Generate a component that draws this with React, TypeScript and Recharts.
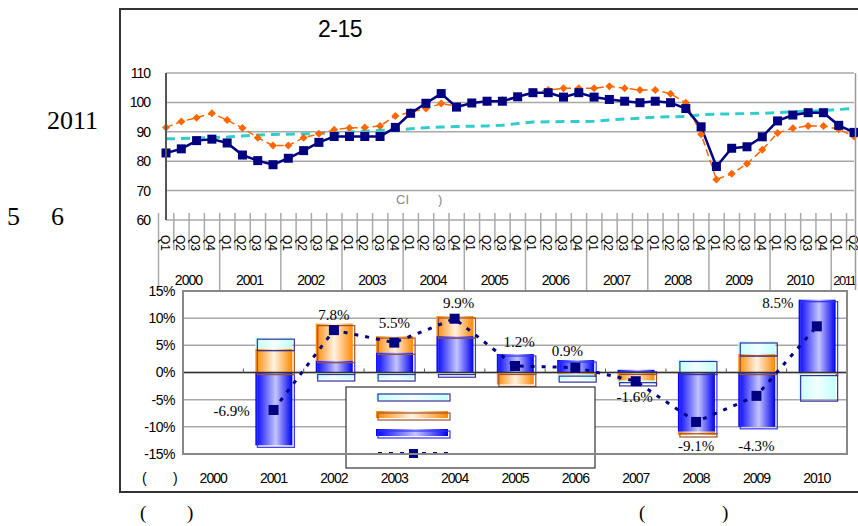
import {
  Bar,
  CartesianGrid,
  ComposedChart,
  LabelList,
  Line,
  LineChart,
  ReferenceLine,
  XAxis,
  YAxis,
} from 'recharts';

// quarterly indices, 2000Q1 - 2011Q2
const years = ['2000', '2001', '2002', '2003', '2004', '2005', '2006', '2007', '2008', '2009', '2010', '2011'];
const quarters = ['Q1', 'Q2', 'Q3', 'Q4'];
const ciIndex = [
  82.8, 84.2, 87.0, 87.5, 86.2, 82.1, 80.2, 78.8, 81.0, 83.6,
  86.4, 88.4, 88.4, 88.4, 88.4, 91.5, 96.3, 99.7, 103.0, 98.4,
  99.8, 100.4, 100.4, 101.9, 103.3, 103.3, 101.8, 103.3, 101.8, 101.0,
  100.4, 99.9, 100.4, 99.9, 97.9, 91.7, 78.2, 84.4, 84.9, 88.3,
  93.7, 95.7, 96.5, 96.5, 92.2, 89.8,
];
const leadingIndex = [
  91.5, 93.5, 94.8, 96.3, 94.0, 91.3, 88.0, 85.3, 85.3, 88.0,
  89.3, 90.7, 91.3, 91.5, 92.0, 95.4, 96.7, 97.9, 99.6, 98.8,
  99.9, 100.1, 100.8, 102.0, 103.5, 104.2, 104.8, 104.8, 104.8, 105.5,
  104.8, 104.2, 104.2, 102.9, 99.9, 89.2, 73.8, 75.7, 79.1, 83.9,
  89.6, 91.2, 92.0, 92.0, 90.9, 88.4,
];
const trendIndex = [
  87.6, 87.7, 87.9, 88.0, 88.2, 88.6, 88.9, 89.1, 89.2, 89.3,
  89.4, 89.6, 89.9, 90.2, 90.5, 90.7, 91.0, 91.4, 91.6, 91.8,
  91.9, 92.0, 92.2, 92.8, 93.3, 93.4, 93.5, 93.5, 93.6, 94.0,
  94.4, 94.6, 95.0, 95.1, 95.2, 95.8, 96.0, 96.1, 96.2, 96.3,
  96.5, 96.8, 97.0, 97.2, 97.6, 97.9,
];
const indexTicks = [60, 70, 80, 90, 100, 110];

// annual growth and contributions (%)
const barYears = ['2000', '2001', '2002', '2003', '2004', '2005', '2006', '2007', '2008', '2009', '2010'];
const blueContrib = [0, -13.4, 2.2, 3.7, 6.7, 3.4, 2.3, 0.5, -10.9, -10.0, 13.4];
const orangeContrib = [0, 4.4, 6.8, 3.0, 3.7, -2.2, -0.3, -1.5, -0.6, 3.4, -0.2];
const cyanContrib = [0, 2.1, -1.2, -1.2, -0.5, 0, -1.1, -0.6, 2.4, 2.4, -4.7];
const growthRate = [null, -6.9, 7.8, 5.5, 9.9, 1.2, 0.9, -1.6, -9.1, -4.3, 8.5];
const growthTicks = [-15, -10, -5, 0, 5, 10, 15];

// label nudges for the growth labels
const labelOffsets = [
  [0, 0], [-42, 1], [0, -15], [0, -20], [4, -16], [4, -24],
  [-8, -17], [-1, 16], [0, 24], [0, 50], [-39, -23],
];

const quarterRows = ciIndex.map((ci, i) => ({
  key: years[Math.floor(i / 4)] + quarters[i % 4],
  year: years[Math.floor(i / 4)],
  quarter: quarters[i % 4],
  ci,
  leading: leadingIndex[i],
  trend: trendIndex[i],
}));

const yearRows = barYears.map((year, i) => ({
  year,
  blue: blueContrib[i],
  orange: orangeContrib[i],
  cyan: cyanContrib[i],
  growth: growthRate[i],
}));

const SANS = '"Liberation Sans", Arial, sans-serif';
const SERIF = '"Liberation Serif", "Times New Roman", serif';

const W = 858;
const TOP_LEFT = 166;
const TOP_RIGHT = 854;
const TOP_TOP = 73;
const TOP_BOTTOM = 220;
const BOT_OFFSET = 280;
const BOT_LEFT = 183;
const BOT_RIGHT = 847;
const BOT_TOP = 291;
const BOT_BOTTOM = 454;

const qBand = (TOP_RIGHT - TOP_LEFT) / quarterRows.length;
const yBand = (BOT_RIGHT - BOT_LEFT) / yearRows.length;

function QuarterTick(props: any) {
  const { x, y, payload } = props;
  const idx = quarterRows.findIndex((r) => r.key === payload.value);
  const row = quarterRows[idx];
  const isQ1 = row.quarter === 'Q1';
  const left = x - qBand / 2;
  const nInYear = quarterRows.filter((r) => r.year === row.year).length;
  const short = nInYear < 4;
  return (
    <g>
      <line x1={left} x2={left} y1={y - 7} y2={isQ1 ? y + 70 : y + 30} stroke="#aaa" strokeWidth={1.5} />
      <text
        transform={`translate(${x - 1.5},${y + 15}) rotate(90)`}
        dominantBaseline="central"
        fontSize={12}
        fontFamily={SANS}
        fill="#000"
      >
        {row.quarter}
      </text>
      {isQ1 && (
        <text
          x={left + (qBand * nInYear) / 2 - (short ? 2 : 0)}
          y={y + 60}
          textAnchor="middle"
          dominantBaseline="central"
          fontSize={short ? 13 : 14}
          letterSpacing={short ? -1.5 : -1}
          fontFamily={SANS}
          fill="#000"
        >
          {row.year}
        </text>
      )}
    </g>
  );
}

function YearTick(props: any) {
  const { x, y, payload } = props;
  const zeroY = BOT_TOP - BOT_OFFSET + (BOT_BOTTOM - BOT_TOP) / 2;
  return (
    <g>
      <line x1={x - yBand / 2} x2={x - yBand / 2} y1={zeroY - 4} y2={zeroY} stroke="#555" />
      <text
        x={x}
        y={y + 24}
        textAnchor="middle"
        dominantBaseline="central"
        fontSize={14}
        letterSpacing={-1}
        fontFamily={SANS}
        fill="#000"
      >
        {payload.value}
      </text>
    </g>
  );
}

const squareDot = (size: number, color: string) => (p: any) => {
  if (p.cy == null || p.value == null) return <g key={`s${p.index}`} />;
  return <rect key={`s${p.index}`} x={p.cx - size / 2} y={p.cy - size / 2} width={size} height={size} fill={color} />;
};

const diamondDot = (p: any) => (
  <path
    key={`d${p.index}`}
    d={`M${p.cx},${p.cy - 4} L${p.cx + 4},${p.cy} L${p.cx},${p.cy + 4} L${p.cx - 4},${p.cy} Z`}
    fill="#FF6600"
  />
);

const barShape = (fillId: string, stroke: string) => (p: any) => {
  const { x, y, width, height } = p;
  if (!height || Math.abs(height) < 0.5) return <g />;
  const top = height < 0 ? y + height : y;
  const h = Math.abs(height);
  return (
    <g>
      <rect x={x} y={top} width={width} height={h} fill={`url(#${fillId})`} />
      <rect x={x + 2} y={top + 2} width={width} height={h} fill="none" stroke={stroke} strokeWidth={1.2} />
    </g>
  );
};

function GrowthLabel(p: any) {
  const { x, y, value, index } = p;
  if (value == null) return null;
  const [dx, dy] = labelOffsets[index];
  return (
    <text
      x={x + dx}
      y={y + dy}
      textAnchor="middle"
      dominantBaseline="central"
      fontSize={15}
      fontFamily={SERIF}
      fill="#000"
    >
      {`${value.toFixed(1)}%`}
    </text>
  );
}

function Gradients() {
  return (
    <svg width={0} height={0} style={{ position: 'absolute' }}>
      <defs>
        <linearGradient id="gBlue" x1="0" x2="1" y1="0" y2="0">
          <stop offset="0" stopColor="#0000FF" />
          <stop offset="0.55" stopColor="#C4C4FF" />
          <stop offset="1" stopColor="#0000F0" />
        </linearGradient>
        <linearGradient id="gOrange" x1="0" x2="1" y1="0" y2="0">
          <stop offset="0" stopColor="#FF8800" />
          <stop offset="0.5" stopColor="#FFF2E2" />
          <stop offset="1" stopColor="#FF8800" />
        </linearGradient>
        <linearGradient id="gCyan" x1="0" x2="1" y1="0" y2="0">
          <stop offset="0" stopColor="#C4FFFF" />
          <stop offset="0.5" stopColor="#F2FFFF" />
          <stop offset="1" stopColor="#C4FFFF" />
        </linearGradient>
      </defs>
    </svg>
  );
}

function LegendBox() {
  return (
    <svg width={252} height={84} style={{ position: 'absolute', left: 345, top: 386 }}>
      <rect x={1} y={1} width={249} height={81} fill="#fff" stroke="#333" strokeWidth={1.2} />
      <rect x={31} y={7} width={72} height={7} fill="url(#gCyan)" />
      <rect x={33} y={8} width={72} height={7} fill="none" stroke="#333399" strokeWidth={1.2} />
      <rect x={31} y={25} width={72} height={7} fill="url(#gOrange)" />
      <rect x={33} y={27} width={72} height={7} fill="none" stroke="#A0522D" strokeWidth={1.2} />
      <rect x={31} y={43} width={72} height={7} fill="url(#gBlue)" />
      <rect x={33} y={45} width={72} height={7} fill="none" stroke="#3333FF" strokeWidth={1.2} />
      <line x1={33} x2={108} y1={67.5} y2={67.5} stroke="#000080" strokeWidth={3} strokeDasharray="4 7" />
      <rect x={64} y={63} width={9} height={9} fill="#000080" />
    </svg>
  );
}

function Overlay() {
  return (
    <svg width={W} height={526} style={{ position: 'absolute', left: 0, top: 0, pointerEvents: 'none' }}>
      <rect x={120} y={9} width={740} height={483} fill="none" stroke="#333" strokeWidth={2} />
      <line x1={TOP_LEFT} x2={TOP_LEFT} y1={TOP_TOP} y2={TOP_BOTTOM} stroke="#555" strokeWidth={2} />
      <line x1={TOP_RIGHT + 1.5} x2={TOP_RIGHT + 1.5} y1={TOP_TOP} y2={TOP_BOTTOM + 70} stroke="#999" strokeWidth={1.5} />
      <rect
        x={BOT_LEFT}
        y={BOT_TOP}
        width={BOT_RIGHT - BOT_LEFT}
        height={BOT_BOTTOM - BOT_TOP}
        fill="none"
        stroke="#888"
        strokeWidth={2}
      />
      <text x={318} y={37} fontSize={23} letterSpacing={-0.5} fontFamily={SANS} fill="#000">
        2-15
      </text>
      <text x={396} y={204} fontSize={13} fontFamily={SANS} fill="#888">CI</text>
      <text x={438} y={204} fontSize={13} fontFamily={SANS} fill="#888">)</text>
      <text x={47} y={129} fontSize={26} fontFamily={SERIF} fill="#000">2011</text>
      <text x={7} y={225} fontSize={26} fontFamily={SERIF} fill="#000">5</text>
      <text x={51} y={225} fontSize={26} fontFamily={SERIF} fill="#000">6</text>
      <text x={142} y={483} fontSize={14} fontFamily={SANS} fill="#000">(</text>
      <text x={173} y={483} fontSize={14} fontFamily={SANS} fill="#000">)</text>
      <text x={140} y={519} fontSize={19} fontFamily={SERIF} fill="#000">(</text>
      <text x={187} y={519} fontSize={19} fontFamily={SERIF} fill="#000">)</text>
      <text x={639} y={519} fontSize={19} fontFamily={SERIF} fill="#000">(</text>
      <text x={722} y={519} fontSize={19} fontFamily={SERIF} fill="#000">)</text>
    </svg>
  );
}

export default function App() {
  return (
    <div style={{ position: 'absolute', left: 0, top: 0, width: W, height: 526, background: '#fff', overflow: 'hidden' }}>
      <Gradients />
      <div style={{ position: 'absolute', left: 0, top: 0 }}>
        <LineChart
          width={W}
          height={300}
          data={quarterRows}
          margin={{ top: TOP_TOP, right: W - TOP_RIGHT, bottom: 10, left: TOP_LEFT - 40 }}
        >
          <CartesianGrid vertical={false} stroke="#a8a8a8" strokeWidth={1.5} />
          <XAxis
            dataKey="key"
            interval={0}
            axisLine={false}
            tickLine={false}
            tickSize={0}
            tickMargin={0}
            height={70}
            tick={<QuarterTick />}
          />
          <YAxis
            width={40}
            domain={[60, 110]}
            ticks={indexTicks}
            axisLine={false}
            tickLine={false}
            tickSize={14}
            tickMargin={2}
            tick={{ fontSize: 14, fill: '#000', fontFamily: SANS, letterSpacing: -1 }}
          />
          <Line
            dataKey="trend"
            stroke="#33CCCC"
            strokeWidth={3}
            strokeDasharray="9 6"
            dot={false}
            isAnimationActive={false}
          />
          <Line
            dataKey="leading"
            stroke="#FF6600"
            strokeWidth={1.5}
            strokeDasharray="7 4"
            dot={diamondDot}
            isAnimationActive={false}
          />
          <Line
            dataKey="ci"
            stroke="#000080"
            strokeWidth={2.5}
            dot={squareDot(9, '#000080')}
            isAnimationActive={false}
          />
        </LineChart>
      </div>
      <div style={{ position: 'absolute', left: 0, top: BOT_OFFSET }}>
        <ComposedChart
          width={W}
          height={220}
          data={yearRows}
          stackOffset="sign"
          margin={{ top: BOT_TOP - BOT_OFFSET, right: W - BOT_RIGHT, bottom: 16, left: BOT_LEFT - 50 }}
        >
          <CartesianGrid vertical={false} stroke="#a8a8a8" strokeWidth={1.5} />
          <XAxis
            dataKey="year"
            interval={0}
            axisLine={false}
            tickLine={false}
            tickSize={0}
            tickMargin={0}
            height={30}
            tick={<YearTick />}
          />
          <YAxis
            width={50}
            domain={[-15, 15]}
            ticks={growthTicks}
            axisLine={false}
            tickLine={false}
            tickSize={6}
            tickMargin={2}
            tickFormatter={(v: number) => `${v}%`}
            tick={{ fontSize: 14, fill: '#000', fontFamily: SANS, letterSpacing: -0.5 }}
          />
          <ReferenceLine y={0} stroke="#333" strokeWidth={1.5} />
          <Bar dataKey="blue" stackId="c" barSize={37} shape={barShape('gBlue', '#3333FF')} isAnimationActive={false} />
          <Bar dataKey="orange" stackId="c" barSize={37} shape={barShape('gOrange', '#A0522D')} isAnimationActive={false} />
          <Bar dataKey="cyan" stackId="c" barSize={37} shape={barShape('gCyan', '#333399')} isAnimationActive={false} />
          <Line
            dataKey="growth"
            stroke="#000080"
            strokeWidth={3}
            strokeDasharray="4 7"
            dot={squareDot(10, '#000080')}
            isAnimationActive={false}
          >
            <LabelList dataKey="growth" content={<GrowthLabel />} />
          </Line>
        </ComposedChart>
      </div>
      <LegendBox />
      <Overlay />
    </div>
  );
}
